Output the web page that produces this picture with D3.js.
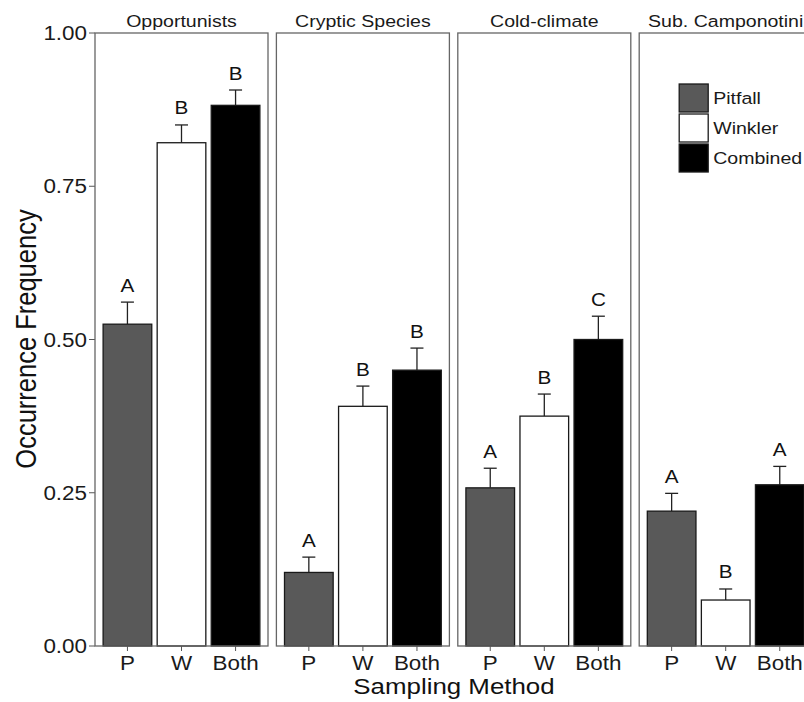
<!DOCTYPE html>
<html>
<head>
<meta charset="utf-8">
<script src="https://cdn.jsdelivr.net/npm/d3@7"></script>
<style>
  html, body { margin: 0; padding: 0; background: #fff; overflow: hidden; }
  svg { display: block; font-family: "Liberation Sans", Arial, Helvetica, sans-serif; }
</style>
</head>
<body>
<div id="chart"></div>
<script>
// Data
const groups = ['Opportunists', 'Cryptic Species', 'Cold-climate', 'Sub. Camponotini'];
const methods = ['P', 'W', 'Both'];
const methodNames = ['Pitfall', 'Winkler', 'Combined'];
const means = [
  [0.525, 0.821, 0.882],
  [0.120, 0.391, 0.450],
  [0.258, 0.375, 0.500],
  [0.220, 0.075, 0.263],
];
const stdErrs = [
  [0.036, 0.029, 0.025],
  [0.025, 0.033, 0.036],
  [0.032, 0.036, 0.038],
  [0.029, 0.018, 0.030],
];
const letters = [
  ['A', 'B', 'B'],
  ['A', 'B', 'B'],
  ['A', 'B', 'C'],
  ['A', 'B', 'A'],
];
const yTicks = [0, 0.25, 0.5, 0.75, 1];

const fills = ['#595959', '#ffffff', '#000000'];

// layout
const width = 820;
const height = 702;
const plotTop = 33;
const plotBottom = 646;
const panelLeft = 95;
const panelW = 173;
const panelStep = 181.4;
const SX = 1.15; // text in the source image is stretched horizontally

const svg = d3.select('#chart').append('svg')
  .attr('width', width)
  .attr('height', height);

const y = d3.scaleLinear().domain([0, 1]).range([plotBottom, plotTop]);
const xPanel = d3.scaleBand().domain(groups)
  .range([panelLeft, panelLeft + panelStep * groups.length])
  .paddingInner(0);
const x = d3.scaleBand().domain(methods)
  .range([0, panelW])
  .paddingInner(0.1)
  .paddingOuter(0.15);

function stretchText(sel, tx, ty, extra = '') {
  return sel.attr('transform', `translate(${tx},${ty}) scale(${SX},1)${extra}`);
}

// y axis
const yAxis = svg.append('g');
yAxis.selectAll('line')
  .data(yTicks)
  .join('line')
  .attr('x1', panelLeft - 6)
  .attr('x2', panelLeft)
  .attr('y1', (d) => y(d))
  .attr('y2', (d) => y(d))
  .attr('stroke', '#555')
  .attr('stroke-width', 1);
yAxis.selectAll('text')
  .data(yTicks)
  .join('text')
  .each(function (d) {
    stretchText(d3.select(this), panelLeft - 8, y(d) + 7);
  })
  .attr('text-anchor', 'end')
  .attr('font-size', 19.5)
  .attr('fill', '#1a1a1a')
  .text((d) => d3.format('.2f')(d));

// panels
groups.forEach((g, gi) => {
  const px = xPanel(g);
  const panel = svg.append('g').attr('transform', `translate(${px},0)`);

  const rows = methods.map((m, mi) => ({
    method: m, mean: means[gi][mi], se: stdErrs[gi][mi], letter: letters[gi][mi], fill: fills[mi],
  }));

  // strip title
  stretchText(panel.append('text'), panelW / 2, 27)
    .attr('text-anchor', 'middle')
    .attr('font-size', 17)
    .attr('fill', '#1a1a1a')
    .text(g);

  // error bars (drawn under bars)
  const capW = 13;
  rows.forEach((d) => {
    const cx = x(d.method) + x.bandwidth() / 2;
    panel.append('line')
      .attr('x1', cx).attr('x2', cx)
      .attr('y1', y(d.mean)).attr('y2', y(d.mean + d.se))
      .attr('stroke', '#222').attr('stroke-width', 1.3);
    panel.append('line')
      .attr('x1', cx - capW / 2).attr('x2', cx + capW / 2)
      .attr('y1', y(d.mean + d.se)).attr('y2', y(d.mean + d.se))
      .attr('stroke', '#222').attr('stroke-width', 1.3);
    stretchText(panel.append('text'), cx, y(d.mean + d.se) - 10.5)
      .attr('text-anchor', 'middle')
      .attr('font-size', 18)
      .attr('fill', '#111')
      .text(d.letter);
  });

  panel.selectAll('rect.bar')
    .data(rows)
    .join('rect')
    .attr('class', 'bar')
    .attr('x', (d) => x(d.method))
    .attr('width', x.bandwidth())
    .attr('y', (d) => y(d.mean))
    .attr('height', (d) => y(0) - y(d.mean))
    .attr('fill', (d) => d.fill)
    .attr('stroke', '#1a1a1a')
    .attr('stroke-width', 1.3);

  // panel border
  panel.append('rect')
    .attr('x', 0).attr('y', plotTop)
    .attr('width', panelW).attr('height', plotBottom - plotTop)
    .attr('fill', 'none')
    .attr('stroke', '#666')
    .attr('stroke-width', 1.3);

  // x ticks
  methods.forEach((m) => {
    const cx = x(m) + x.bandwidth() / 2;
    panel.append('line')
      .attr('x1', cx).attr('x2', cx)
      .attr('y1', plotBottom).attr('y2', plotBottom + 5)
      .attr('stroke', '#555');
    stretchText(panel.append('text'), cx, 670)
      .attr('text-anchor', 'middle')
      .attr('font-size', 19.5)
      .attr('fill', '#1a1a1a')
      .text(m);
  });

  // legend sits inside the last panel
  if (gi === groups.length - 1) {
    const legend = panel.append('g').attr('transform', 'translate(40,84)');
    methodNames.forEach((name, i) => {
      legend.append('rect')
        .attr('x', 0).attr('y', i * 30)
        .attr('width', 29).attr('height', 28)
        .attr('fill', fills[i])
        .attr('stroke', '#1a1a1a')
        .attr('stroke-width', 1.3);
      stretchText(legend.append('text'), 34, i * 30 + 20)
        .attr('font-size', 17)
        .attr('fill', '#1a1a1a')
        .text(name);
    });
  }
});

// axis titles
stretchText(svg.append('text'), 454, 694)
  .attr('text-anchor', 'middle')
  .attr('font-size', 22.5)
  .attr('fill', '#111')
  .text('Sampling Method');

stretchText(svg.append('text'), 36, 339, ' rotate(-90)')
  .attr('text-anchor', 'middle')
  .attr('font-size', 25.5)
  .attr('fill', '#111')
  .text('Occurrence Frequency');
</script>
</body>
</html>
